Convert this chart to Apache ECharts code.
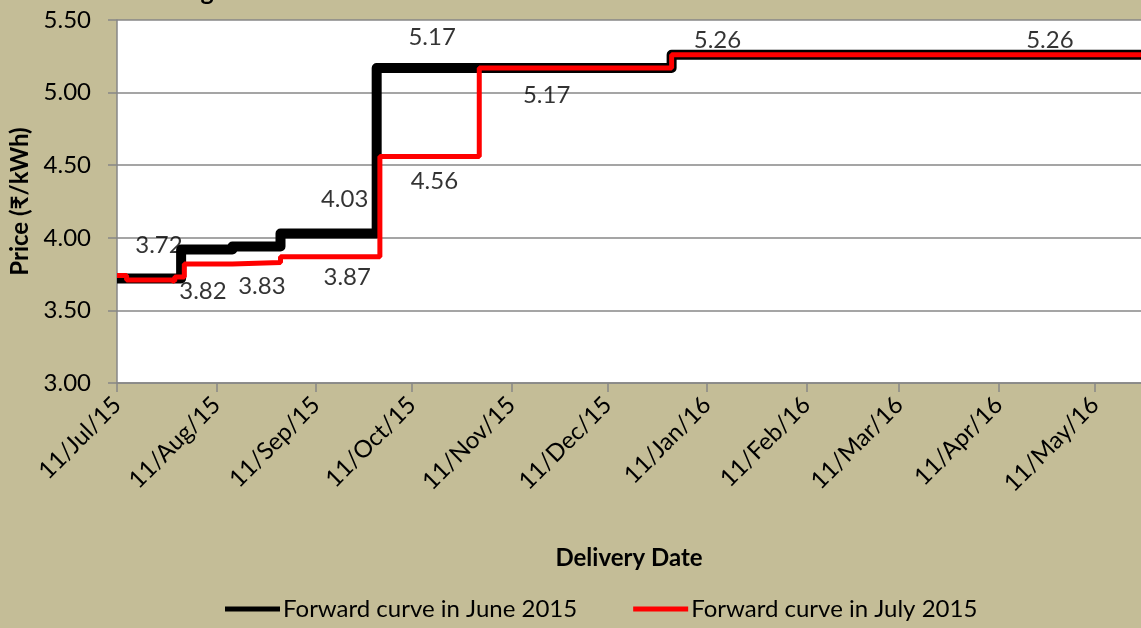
<!DOCTYPE html>
<html><head><meta charset="utf-8">
<script src="https://cdn.jsdelivr.net/npm/echarts@6/dist/echarts.min.js"></script>
<style>html,body{margin:0;padding:0;background:#C4BD97;}#c{width:1141px;height:628px;}</style>
</head><body><div id="c"></div>
<script>
// ---- data ----
const startDate = '2015-07-11';
const tickDates = ['2015-07-11','2015-08-11','2015-09-11','2015-10-11','2015-11-11','2015-12-11','2016-01-11','2016-02-11','2016-03-11','2016-04-11','2016-05-11'];
const tickLabels = ['11/Jul/15','11/Aug/15','11/Sep/15','11/Oct/15','11/Nov/15','11/Dec/15','11/Jan/16','11/Feb/16','11/Mar/16','11/Apr/16','11/May/16'];
const juneDates = ['2015-07-11','2015-07-31','2015-08-16','2015-08-31','2015-09-30','2015-12-31','2016-06-20'];
const juneValues = [3.72,3.92,3.94,4.03,5.17,5.26,5.26];
const julyDates = ['2015-07-11','2015-07-14','2015-07-28','2015-07-29','2015-08-01','2015-08-16','2015-08-31','2015-10-01','2015-11-01','2015-12-31','2016-06-20'];
const julyValues = [3.74,3.71,3.70,3.73,3.82,3.83,3.87,4.56,5.17,5.26,5.26];
const labelValues = [3.72,3.82,3.83,3.87,4.03,4.56,5.17,5.17,5.26,5.26];
// label placement (day offset of label centre, pixel shift from value)
const labelPlace = [[13.1,-33],[26.8,27],[45.2,24],[71.8,21],[71,-34],[99,25],[98.3,-31],[134,27],[187.3,-15],[291,-15]];

const DAY = 86400000;
const t0 = Date.parse(startDate);
const toDay = d => Math.round((Date.parse(d) - t0) / DAY);
const tickDays = tickDates.map(toDay);
const FONT = 'Lato, "Noto Sans", "DejaVu Sans", sans-serif';

const chart = echarts.init(document.getElementById('c'));
chart.setOption({
  animation: false,
  backgroundColor: '#C4BD97',
  title: {
    text: 'Figure 8: Forward Curve based on Term-Ahead Market Contracts',
    left: 175, top: -26,
    textStyle: {fontFamily: FONT, fontSize: 25, fontWeight: 'bold', color: '#000'}
  },
  grid: {left: 117, top: 20, bottom: 245, right: -66, show: true, backgroundColor: '#fff', borderWidth: 0, containLabel: false, outerBoundsMode: 'none'},
  xAxis: {
    type: 'value', min: 0, max: 340,
    name: 'Delivery Date', nameLocation: 'middle', nameGap: 163,
    nameTextStyle: {fontFamily: FONT, fontSize: 24, fontWeight: 'bold', color: '#000', padding: [0, 66, 0, 0]},
    axisLine: {show: true, lineStyle: {color: '#878787', width: 1.5}},
    axisTick: {show: true, length: 9, customValues: tickDays, lineStyle: {color: '#878787', width: 1.5}},
    splitLine: {show: false},
    axisLabel: {
      customValues: tickDays, rotate: 45, margin: 18,
      fontFamily: FONT, fontSize: 24, color: '#000',
      formatter: v => tickLabels[tickDays.indexOf(Math.round(v))] || ''
    }
  },
  yAxis: {
    type: 'value', min: 3, max: 5.5, interval: 0.5,
    name: 'Price (₹/kWh)', nameLocation: 'middle', nameGap: 85,
    nameTextStyle: {fontFamily: FONT, fontSize: 24, fontWeight: 'bold', color: '#000'},
    axisLine: {show: true, lineStyle: {color: '#878787', width: 1.5}},
    axisTick: {show: true, length: 9, lineStyle: {color: '#878787', width: 1.5}},
    splitLine: {show: true, lineStyle: {color: '#878787', width: 1.5}},
    axisLabel: {margin: 26, fontFamily: FONT, fontSize: 24, color: '#000', formatter: v => v.toFixed(2)}
  },
  legend: {
    bottom: 7, left: 225, padding: 0, itemGap: 56, itemWidth: 55, itemHeight: 5, icon: 'rect',
    textStyle: {fontFamily: FONT, fontSize: 24, color: '#000', padding: [0,0,0,-2]},
    data: ['Forward curve in June 2015', 'Forward curve in July 2015']
  },
  series: [
    {
      name: 'Forward curve in June 2015', type: 'line', step: 'end', showSymbol: false,
      color: '#000', lineStyle: {color: '#000', width: 10, join: 'round'},
      data: juneDates.map((d, i) => [toDay(d), juneValues[i]]), z: 2
    },
    {
      name: 'Forward curve in July 2015', type: 'line', step: 'end', showSymbol: false,
      color: '#FF0000', lineStyle: {color: '#FF0000', width: 5},
      data: julyDates.map((d, i) => [toDay(d), julyValues[i]]), z: 3
    },
    {
      name: 'labels', type: 'scatter', symbolSize: 0, silent: true, z: 5,
      data: labelValues.map((v, i) => ({value: [labelPlace[i][0], v], label: {offset: [0, labelPlace[i][1]]}})),
      label: {show: true, position: 'inside', fontFamily: FONT, fontSize: 24, color: '#000', formatter: p => p.value[1].toFixed(2)}
    }
  ]
});
</script></body></html>
